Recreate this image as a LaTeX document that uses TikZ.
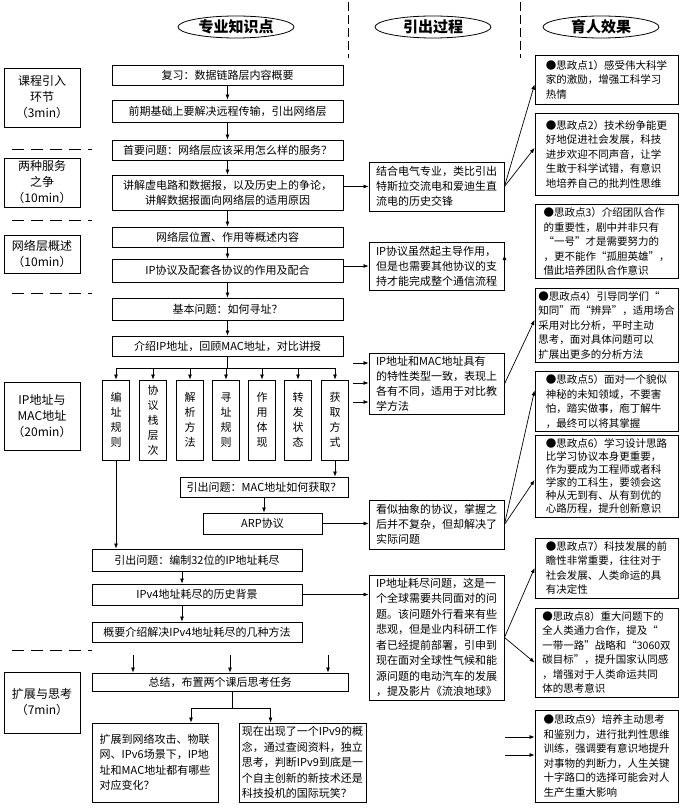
\documentclass[tikz,border=0pt]{standalone}
\usepackage{fontspec}
\setmainfont{Noto Sans CJK SC}
\usetikzlibrary{arrows.meta,shapes.geometric,calc}

\begin{document}
\begin{tikzpicture}[x=1pt, y=-1pt, >={Latex[length=5pt,width=4pt]},
    head/.style={draw, ellipse, line width=0.8pt, minimum width=116pt,
                 minimum height=22pt, inner sep=0pt,
                 font=\fontsize{15}{15}\selectfont\bfseries},
    stage/.style={draw, line width=0.9pt, minimum width=76pt,
                  inner sep=0pt, align=center,
                  font=\fontsize{12}{16}\selectfont},
    know/.style={draw, line width=0.9pt, minimum width=231pt,
                 minimum height=20pt, inner sep=0pt, align=center,
                 font=\fontsize{11}{15}\selectfont},
    col/.style={draw, line width=0.9pt, minimum width=27pt,
                minimum height=80pt, inner sep=0pt, align=center,
                font=\fontsize{11}{15}\selectfont},
    lead/.style={draw, line width=0.9pt, minimum width=135pt,
                 inner sep=3pt, align=left,
                 font=\fontsize{11}{15}\selectfont},
    edu/.style={draw, line width=0.9pt, minimum width=143pt,
                inner sep=3pt, align=left,
                font=\fontsize{10.5}{14.5}\selectfont},
    sep/.style={line width=0.9pt, dash pattern=on 12pt off 7pt},
    vsep/.style={line width=0.8pt, dash pattern=on 9pt off 4pt},
    arr/.style={->, line width=0.7pt}]

  \useasboundingbox[fill=white] (0,0) rectangle (683,810);

  %% Column headers
  \node[head] (hk) at (236,27) {专业知识点};
  \node[head] (hy) at (433,27) {引出过程};
  \node[head] (he) at (601,27) {育人效果};
  \draw[vsep] (348,2) -- (348,58);
  \draw[vsep] (520,2) -- (520,58);

  %% Stages (left)
  \node[stage, minimum height=59pt] (st1) at (42,97.5)
    {课程引入\\环节\\（3min）};
  \node[stage, minimum height=49pt] (st2) at (42,182.5)
    {两种服务\\之争\\（10min）};
  \node[stage, minimum height=38pt] (st3) at (42,254)
    {网络层概述\\（10min）};
  \node[stage, minimum height=68pt] (st4) at (42,416)
    {IP地址与\\MAC地址\\（20min）};
  \node[stage, minimum height=61pt] (st5) at (42,702.5)
    {扩展与思考\\（7min）};
  \draw[sep] (12,149) -- (92,149);
  \draw[sep] (12,220) -- (92,220);
  \draw[sep] (12,293) -- (92,293);
  \draw[sep] (12,650) -- (92,650);

  %% Knowledge points
  \node[know] (k1) at (227.5,75)  {复习：数据链路层内容概要};
  \node[know, minimum height=22pt] (k2) at (227.5,111)
    {前期基础上要解决远程传输，引出网络层};
  \node[know] (k3) at (227.5,150) {首要问题：网络层应该采用怎么样的服务？};
  \node[know, minimum height=35pt] (k4) at (227.5,192.5)
    {讲解虚电路和数据报，以及历史上的争论，\\讲解数据报面向网络层的适用原因};
  \node[know] (k5) at (227.5,237) {网络层位置、作用等概述内容};
  \node[know, minimum height=23pt] (k6) at (227.5,270.5)
    {IP协议及配套各协议的作用及配合};
  \node[know, minimum height=22pt] (k7) at (227.5,309) {基本问题：如何寻址？};
  \node[know] (k8) at (227.5,346) {介绍IP地址，回顾MAC地址，对比讲授};
  \draw[arr] (k1)--(k2); \draw[arr] (k2)--(k3); \draw[arr] (k3)--(k4);
  \draw[arr] (k4)--(k5); \draw[arr] (k5)--(k6); \draw[arr] (k6)--(k7);
  \draw[arr] (k7)--(k8);

  %% Seven aspects
  \node[col] (v1) at (116,420) {编\\址\\规\\则};
  \node[col] (v2) at (153,420) {协\\议\\栈\\层\\次};
  \node[col] (v3) at (190,420) {解\\析\\方\\法};
  \node[col] (v4) at (226,420) {寻\\址\\规\\则};
  \node[col] (v5) at (262,420) {作\\用\\体\\现};
  \node[col] (v6) at (298,420) {转\\发\\状\\态};
  \node[col] (v7) at (335,420) {获\\取\\方\\式};
  \coordinate (br) at (227.5,368);
  \draw[line width=0.7pt] (k8.south) -- (br);
  \draw[line width=0.7pt] (br -| v1) -- (br -| v7);
  \draw[arr] (br -| v1) -- (v1.north); \draw[arr] (br -| v2) -- (v2.north);
  \draw[arr] (br -| v3) -- (v3.north); \draw[arr] (br -| v4) -- (v4.north);
  \draw[arr] (br -| v5) -- (v5.north); \draw[arr] (br -| v6) -- (v6.north);
  \draw[arr] (br -| v7) -- (v7.north);

  %% MAC / ARP branch
  \node[know, minimum width=168pt] (q1) at (264,487)
    {引出问题：MAC地址如何获取？};
  \node[know, minimum width=119pt, minimum height=21pt] (arp) at (262.5,523.5)
    {ARP协议};
  \draw[arr] (v7.south) -- (v7.south |- q1.north);
  \draw[arr] (q1.south) -- (q1.south |- arp.north);

  %% IPv4 branch
  \node[know, minimum width=210pt, minimum height=22pt] (q2) at (197,560)
    {引出问题：编制32位的IP地址耗尽};
  \node[know, minimum width=210pt, minimum height=21pt] (h1) at (197,594.5)
    {IPv4地址耗尽的历史背景};
  \node[know, minimum width=210pt] (h2) at (197,632)
    {概要介绍解决IPv4地址耗尽的几种方法};
  \draw[arr] (v1.south) -- (v1.south |- q2.north);
  \draw[arr] ([xshift=-15pt]q2.south) -- ([xshift=-15pt]q2.south |- h1.north);
  \draw[arr] ([xshift=-15pt]h1.south) -- ([xshift=-15pt]h1.south |- h2.north);

  %% Summary and tasks
  \node[know, minimum width=256pt, minimum height=18pt] (sum) at (220,682)
    {总结，布置两个课后思考任务};
  \coordinate (f1) at (133,655);
  \coordinate (f2) at (230,655);
  \coordinate (f3) at (328,655);
  \draw[arr] (f1) -- (f1 |- sum.north);
  \draw[arr] (f2) -- (f2 |- sum.north);
  \draw[arr] (f3) -- (f3 |- sum.north);

  \node[lead, minimum width=126pt, minimum height=79pt,
        font=\fontsize{11}{15.5}\selectfont] (e1) at (155,762.5)
    {扩展到网络攻击、物联\\网、IPv6场景下，IP地\\址和MAC地址都有哪些\\对应变化？};
  \node[lead, minimum width=125pt, minimum height=79pt,
        font=\fontsize{11}{15.5}\selectfont] (e2) at (302.5,762.5)
    {现在出现了一个IPv9的概\\念，通过查阅资料，独立\\思考，判断IPv9到底是一\\个自主创新的新技术还是\\科技投机的国际玩笑？};
  \coordinate (sj) at (232,708);
  \draw[line width=0.7pt] (sum.south -| sj) -- (sj);
  \draw[arr] (sj) -| ([xshift=36pt]e1.north);
  \draw[arr] (sj) -| ([xshift=-32pt]e2.north);

  %% Lead-in process (middle)
  \node[lead, minimum height=49pt] (m1) at (436.5,186.5)
    {结合电气专业，类比引出\\特斯拉交流电和爱迪生直\\流电的历史交锋};
  \node[lead, minimum height=48pt] (m2) at (436.5,266)
    {IP协议虽然起主导作用，\\但是也需要其他协议的支\\持才能完成整个通信流程};
  \node[lead, minimum height=58pt] (m3) at (436.5,384)
    {IP地址和MAC地址具有\\的特性类型一致，表现上\\各有不同，适用于对比教\\学方法};
  \node[lead, minimum height=49pt] (m4) at (436.5,524.5)
    {看似抽象的协议，掌握之\\后并不复杂，但却解决了\\实际问题};
  \node[lead, minimum height=125pt,
        font=\fontsize{11}{15.5}\selectfont] (m5) at (436.5,637.5)
    {IP地址耗尽问题，这是一\\个全球需要共同面对的问\\题。该问题外行看来有些\\悲观，但是业内科研工作\\者已经提前部署，引申到\\现在面对全球性气候和能\\源问题的电动汽车的发展\\，提及影片《流浪地球》};

  \draw[arr] (k4.east |- m1) -- (m1.west);
  \draw[arr] (k6.east |- m2) -- (m2.west);
  \coordinate (g1) at (353,363);
  \coordinate (g2) at (353,383);
  \coordinate (g3) at (353,402);
  \draw[arr] (g1) -- (g1 -| m3.west);
  \draw[arr] (g2) -- (g2 -| m3.west);
  \draw[arr] (g3) -- (g3 -| m3.west);
  \draw[arr] (arp.east) -- (arp.east -| m4.west);
  \draw[arr] (h1.east) -- (h1.east -| m5.west);

  %% Educational effects (right)
  \node[edu, minimum height=49pt] (r1) at (606.5,79.5)
    {●思政点1）感受伟大科学\\家的激励，增强工科学习\\热情};
  \node[edu, minimum height=82pt] (r2) at (606.5,154)
    {●思政点2）技术纷争能更\\好地促进社会发展，科技\\进步欢迎不同声音，让学\\生敢于科学试错，有意识\\地培养自己的批判性思维};
  \node[edu, minimum height=73pt] (r3) at (606.5,241.5)
    {●思政点3）介绍团队合作\\的重要性，剧中并非只有\\“一号”才是需要努力的\\，更不能作“孤胆英雄”，\\借此培养团队合作意识};
  \node[edu, minimum height=74pt] (r4) at (606.5,325)
    {●思政点4）引导同学们“\\知同”而“辨异”，适用场合\\采用对比分析，平时主动\\思考，面对具体问题可以\\扩展出更多的分析方法};
  \node[edu, minimum height=57pt] (r5) at (606.5,401.5)
    {●思政点5）面对一个貌似\\神秘的未知领域，不要害\\怕，踏实做事，庖丁解牛\\，最终可以将其掌握};
  \node[edu, minimum height=82pt,
        font=\fontsize{10.5}{13}\selectfont] (r6) at (606.5,476)
    {●思政点6）学习设计思路\\比学习协议本身更重要，\\作为要成为工程师或者科\\学家的工科生，要领会这\\种从无到有、从有到优的\\心路历程，提升创新意识};
  \node[edu, minimum height=60pt] (r7) at (606.5,568)
    {●思政点7）科技发展的前\\瞻性非常重要，往往对于\\社会发展、人类命运的具\\有决定性};
  \node[edu, minimum height=89pt] (r8) at (606.5,652.5)
    {●思政点8）重大问题下的\\全人类通力合作，提及“\\一带一路”战略和“3060双\\碳目标”，提升国家认同感\\，增强对于人类命运共同\\体的思考意识};
  \node[edu, minimum height=92pt] (r9) at (606.5,756)
    {●思政点9）培养主动思考\\和鉴别力，进行批判性思维\\训练，强调要有意识地提升\\对事物的判断力，人生关键\\十字路口的选择可能会对人\\生产生重大影响};

  \draw[arr] (m1.east) -- ($(r1.west)+(0,5)$);
  \draw[arr] (m1.east) -- ($(r2.west)+(0,-6)$);
  \draw[arr] ($(m2.east)+(0,-11)$) -- ($(m2.east)+(0,-11)$ -| r3.west);
  \draw[arr] (m3.east) -- ($(r4.west)+(0,-5)$);
  \draw[arr] (m4.east) -- ($(r5.west)+(0,-11)$);
  \draw[arr] (m4.east) -- ($(r6.west)+(0,4)$);
  \draw[arr] (m5.east) -- (r7.west);
  \draw[arr] (m5.east) -- ($(r8.west)+(0,10)$);
  \coordinate (w1) at (505,737);
  \coordinate (w2) at (505,755);
  \draw[arr] (w1) -- (w1 -| r9.west);
  \draw[arr] (w2) -- (w2 -| r9.west);
\end{tikzpicture}
\end{document}
